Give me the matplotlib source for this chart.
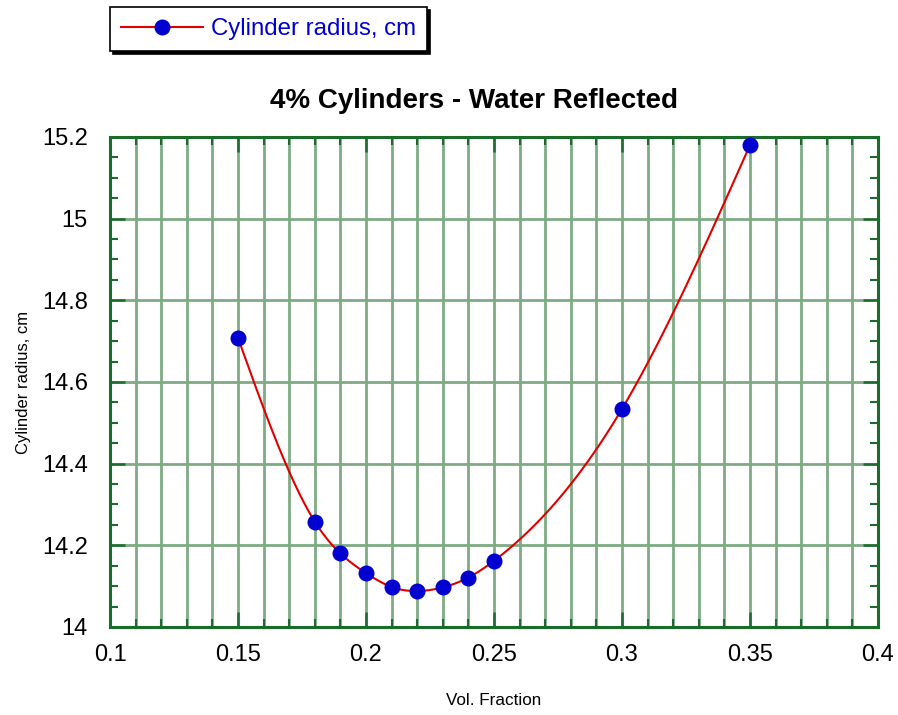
import numpy as np
import matplotlib
matplotlib.use("Agg")
from matplotlib import pyplot as plt
from matplotlib.ticker import MultipleLocator

plt.rcParams['font.family'] = ['Liberation Sans', 'DejaVu Sans']

# data
vol_fraction = [0.15, 0.18, 0.19, 0.20, 0.21, 0.22, 0.23, 0.24, 0.25, 0.30, 0.35]
radius = [14.708, 14.258, 14.180, 14.132, 14.098, 14.088, 14.097, 14.121, 14.162, 14.534, 15.180]

title = "4% Cylinders - Water Reflected"
xlab = "Vol. Fraction"
ylab = "Cylinder radius, cm"
series_name = "Cylinder radius, cm"


def natural_spline(x, y, n=400):
    # smooth line through the points, only for drawing the curve
    x = np.asarray(x, float)
    y = np.asarray(y, float)
    k = len(x)
    h = np.diff(x)
    A = np.zeros((k, k))
    b = np.zeros(k)
    A[0, 0] = 1
    A[-1, -1] = 1
    for i in range(1, k - 1):
        A[i, i - 1] = h[i - 1]
        A[i, i] = 2 * (h[i - 1] + h[i])
        A[i, i + 1] = h[i]
        b[i] = 6 * ((y[i + 1] - y[i]) / h[i] - (y[i] - y[i - 1]) / h[i - 1])
    m = np.linalg.solve(A, b)
    xs = np.linspace(x[0], x[-1], n)
    idx = np.clip(np.searchsorted(x, xs) - 1, 0, k - 2)
    x0, x1 = x[idx], x[idx + 1]
    hh = x1 - x0
    t0 = x1 - xs
    t1 = xs - x0
    ys = (m[idx] * t0**3 / (6 * hh) + m[idx + 1] * t1**3 / (6 * hh)
          + (y[idx] / hh - m[idx] * hh / 6) * t0
          + (y[idx + 1] / hh - m[idx + 1] * hh / 6) * t1)
    return xs, ys


green = '#1b6b2b'
gridgreen = '#7dab83'

fig = plt.figure(figsize=(8.98, 7.15), dpi=100)
ax = fig.add_axes([0.1225, 0.1231, 0.8552, 0.6853])

xs, ys = natural_spline(vol_fraction, radius)
ax.plot(xs, ys, color='#e00000', lw=1.5, zorder=3)
ax.plot(vol_fraction, radius, 'o', color='#0000d0', ms=10.5, zorder=4)
# proxy handle for the legend
h, = ax.plot([], [], '-o', color='#e00000', mfc='#0000d0', mec='#0000d0', ms=10.5, lw=1.5)

ax.set_xlim(0.1, 0.4)
ax.set_ylim(14, 15.2)
ax.xaxis.set_major_locator(MultipleLocator(0.05))
ax.xaxis.set_minor_locator(MultipleLocator(0.01))
ax.yaxis.set_major_locator(MultipleLocator(0.2))
ax.yaxis.set_minor_locator(MultipleLocator(0.05))
fmt = matplotlib.ticker.FuncFormatter(lambda v, p: ('%g' % round(v, 3)))
ax.xaxis.set_major_formatter(fmt)
ax.yaxis.set_major_formatter(fmt)

ax.grid(True, which='major', axis='y', color=gridgreen, lw=2)
ax.grid(True, which='both', axis='x', color=gridgreen, lw=2)
ax.set_axisbelow(True)

for s in ax.spines.values():
    s.set_color(green)
    s.set_linewidth(2.2)
ax.tick_params(which='both', direction='in', top=True, right=True, color=green,
               labelsize=17)
ax.tick_params(axis='x', which='major', pad=12)
ax.tick_params(axis='y', which='major', pad=16)
ax.tick_params(which='major', length=11, width=1.8)
ax.tick_params(which='minor', length=6, width=1.5)

ax.set_title(title, fontsize=20, fontweight='bold', pad=21, x=0.474)
ax.set_xlabel(xlab, fontsize=12.3, labelpad=20)
ax.set_ylabel(ylab, fontsize=12, labelpad=8)

leg = fig.legend([h], [series_name], loc='upper left', bbox_to_anchor=(0.1225, 0.99),
                 fontsize=17.3, frameon=True, fancybox=False, labelcolor='#0000d0',
                 shadow={'color': 'black', 'alpha': 1}, handlelength=3.4,
                 borderpad=0.45, borderaxespad=0, handletextpad=0.35)
leg.get_frame().set_edgecolor('black')
leg.get_frame().set_linewidth(1.2)

fig.savefig('out.png', dpi=100)
